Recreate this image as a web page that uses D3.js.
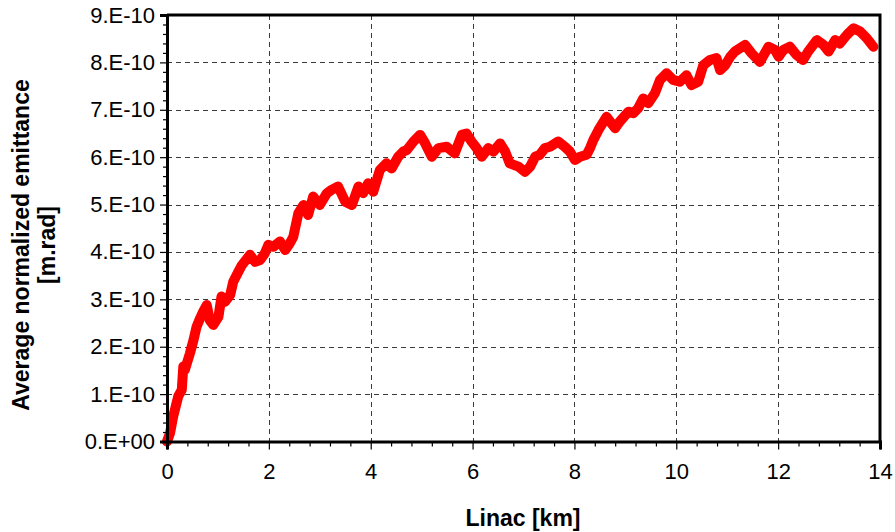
<!DOCTYPE html>
<html>
<head>
<meta charset="utf-8">
<script src="https://cdn.jsdelivr.net/npm/d3@7"></script>
<style>
  html, body { margin: 0; padding: 0; background: #fff; }
  svg { display: block; }
</style>
</head>
<body>
<svg id="chart" width="895" height="532"></svg>
<script>
// Position along the linac [km]
const linacKm = [
  0, 0.06, 0.12, 0.22, 0.29, 0.32, 0.35, 0.45, 0.52, 0.58, 0.65, 0.71, 0.78, 0.84, 0.91,
  1.01, 1.07, 1.14, 1.24, 1.30, 1.40, 1.47, 1.63, 1.73, 1.83, 1.92, 1.99,
  2.09, 2.22, 2.32, 2.41, 2.48, 2.58, 2.68, 2.77, 2.87, 3.00,
  3.14, 3.23, 3.36, 3.50, 3.63, 3.76, 3.85, 3.95, 4.05, 4.18, 4.31, 4.41, 4.54, 4.64, 4.71,
  4.84, 4.97, 5.07, 5.20, 5.33, 5.49, 5.65, 5.79, 5.88, 5.98, 6.08, 6.18, 6.31, 6.41,
  6.54, 6.64, 6.73, 6.90, 7.03, 7.13, 7.23, 7.32, 7.42, 7.52, 7.68, 7.81, 7.91,
  8.01, 8.11, 8.24, 8.31, 8.37, 8.47, 8.63, 8.80, 8.89, 9.06, 9.16, 9.25, 9.35, 9.45,
  9.58, 9.68, 9.81, 9.94, 10.07, 10.20, 10.30, 10.43, 10.53, 10.66, 10.79, 10.86,
  10.96, 11.06, 11.15, 11.35, 11.48, 11.64, 11.81, 11.94, 12.01, 12.10, 12.23, 12.36,
  12.49, 12.59, 12.76, 12.89, 12.99, 13.12, 13.21, 13.35, 13.48, 13.61, 13.74, 13.87
];

// Average normalized emittance, in units of 1e-10 m.rad
const emittanceE10 = [
  0, 0.18, 0.52, 0.95, 1.09, 1.58, 1.51, 1.86, 2.14, 2.42, 2.60, 2.74, 2.88, 2.56, 2.46,
  2.63, 3.06, 2.95, 3.09, 3.37, 3.58, 3.72, 3.94, 3.79, 3.83, 3.97, 4.15,
  4.11, 4.22, 4.04, 4.18, 4.32, 4.82, 4.99, 4.78, 5.17, 4.99,
  5.24, 5.31, 5.38, 5.06, 4.99, 5.38, 5.24, 5.45, 5.27, 5.73, 5.87, 5.76, 6.01, 6.12, 6.15,
  6.33, 6.47, 6.29, 6.01, 6.19, 6.22, 6.08, 6.47, 6.50, 6.33, 6.19, 6.01, 6.19, 6.12,
  6.29, 6.12, 5.87, 5.80, 5.69, 5.80, 6.01, 6.05, 6.19, 6.22, 6.33, 6.22, 6.12,
  5.94, 6.01, 6.05, 6.20, 6.36, 6.57, 6.85, 6.61, 6.75, 6.96, 6.93, 7.03, 7.24, 7.14,
  7.35, 7.63, 7.77, 7.63, 7.59, 7.73, 7.52, 7.59, 7.94, 8.05, 8.09, 7.84,
  7.94, 8.12, 8.23, 8.37, 8.19, 8.01, 8.33, 8.26, 8.12, 8.26, 8.33, 8.16,
  8.05, 8.23, 8.47, 8.37, 8.23, 8.47, 8.40, 8.58, 8.72, 8.65, 8.51, 8.33
];

const xTickValues = [0, 2, 4, 6, 8, 10, 12, 14];
const yTickValues = [0, 1, 2, 3, 4, 5, 6, 7, 8, 9];
const yTickLabels = ["0.E+00", "1.E-10", "2.E-10", "3.E-10", "4.E-10", "5.E-10",
                     "6.E-10", "7.E-10", "8.E-10", "9.E-10"];

const xTitle = "Linac [km]";
const yTitleLines = ["Average normalized emittance", "[m.rad]"];

const svg = d3.select("#chart");
const plot = { left: 167, right: 880, top: 15, bottom: 441.5 };

const x = d3.scaleLinear().domain([0, 14]).range([plot.left, plot.right]);
const y = d3.scaleLinear().domain([0, 9]).range([plot.bottom, plot.top]);

const font = "'Liberation Sans', Arial, Helvetica, sans-serif";

// Dashed grid
const grid = svg.append("g").attr("stroke", "#3a3a3a").attr("stroke-width", 1)
  .attr("stroke-dasharray", "5,4").attr("fill", "none");
grid.selectAll("line.v").data(xTickValues.filter(d => d > 0 && d < 14)).join("line")
  .attr("class", "v")
  .attr("x1", d => Math.round(x(d)) + 0.5).attr("x2", d => Math.round(x(d)) + 0.5)
  .attr("y1", plot.top).attr("y2", plot.bottom);
grid.selectAll("line.h").data(yTickValues.filter(d => d > 0 && d < 9)).join("line")
  .attr("class", "h")
  .attr("y1", d => Math.round(y(d)) + 0.5).attr("y2", d => Math.round(y(d)) + 0.5)
  .attr("x1", plot.left).attr("x2", plot.right);

// Emittance curve
const line = d3.line()
  .x((d, i) => x(linacKm[i]))
  .y(d => y(d))
  .curve(d3.curveLinear);

svg.append("path")
  .datum(emittanceE10)
  .attr("d", line)
  .attr("fill", "none")
  .attr("stroke", "#ff0000")
  .attr("stroke-width", 10)
  .attr("stroke-linejoin", "round")
  .attr("stroke-linecap", "round");

// Frame: top and right borders
svg.append("path")
  .attr("d", `M${plot.left},${plot.top}H${plot.right}V${plot.bottom}`)
  .attr("fill", "none").attr("stroke", "#000").attr("stroke-width", 3);

// Y axis with major and minor ticks
const yAxis = d3.axisLeft(y)
  .tickValues(yTickValues)
  .tickSize(7)
  .tickPadding(5)
  .tickFormat((d, i) => yTickLabels[i]);
const yMinor = d3.axisLeft(y)
  .tickValues(d3.range(0, 9.001, 0.2).filter(v => Math.abs(v - Math.round(v)) > 1e-6))
  .tickSize(4).tickFormat("");

svg.append("g").attr("transform", `translate(${plot.left},0)`).call(yMinor)
  .call(g => g.select(".domain").remove())
  .call(g => g.selectAll("line").attr("stroke-width", 1.2));
const gy = svg.append("g").attr("transform", `translate(${plot.left},0)`).call(yAxis);
gy.select(".domain").attr("stroke-width", 3);
gy.selectAll("line").attr("stroke-width", 1.2);
gy.selectAll("text").attr("font-family", font).attr("font-size", 22).attr("fill", "#000");

// X axis with major and minor ticks
const xAxis = d3.axisBottom(x)
  .tickValues(xTickValues)
  .tickSize(8)
  .tickPadding(14)
  .tickFormat(d3.format("d"));
const xMinor = d3.axisBottom(x)
  .tickValues(d3.range(0, 14.001, 0.4).filter(v => Math.abs(v / 2 - Math.round(v / 2)) > 1e-6))
  .tickSize(5).tickFormat("");

svg.append("g").attr("transform", `translate(0,${plot.bottom})`).call(xMinor)
  .call(g => g.select(".domain").remove())
  .call(g => g.selectAll("line").attr("stroke-width", 1.2));
const gx = svg.append("g").attr("transform", `translate(0,${plot.bottom})`).call(xAxis);
gx.select(".domain").attr("stroke-width", 3);
gx.selectAll("line").attr("stroke-width", 1.2);
gx.selectAll("text").attr("font-family", font).attr("font-size", 22).attr("fill", "#000");

// Axis titles
svg.append("text")
  .attr("x", 523).attr("y", 526)
  .attr("text-anchor", "middle")
  .attr("font-family", font).attr("font-weight", "bold").attr("font-size", 23)
  .text(xTitle);

const yTitle = svg.append("text")
  .attr("transform", "translate(29,245) rotate(-90)")
  .attr("text-anchor", "middle")
  .attr("font-family", font).attr("font-weight", "bold").attr("font-size", 23);
yTitle.selectAll("tspan").data(yTitleLines).join("tspan")
  .attr("x", 0).attr("dy", (d, i) => i === 0 ? 0 : 26)
  .text(d => d);
</script>
</body>
</html>
